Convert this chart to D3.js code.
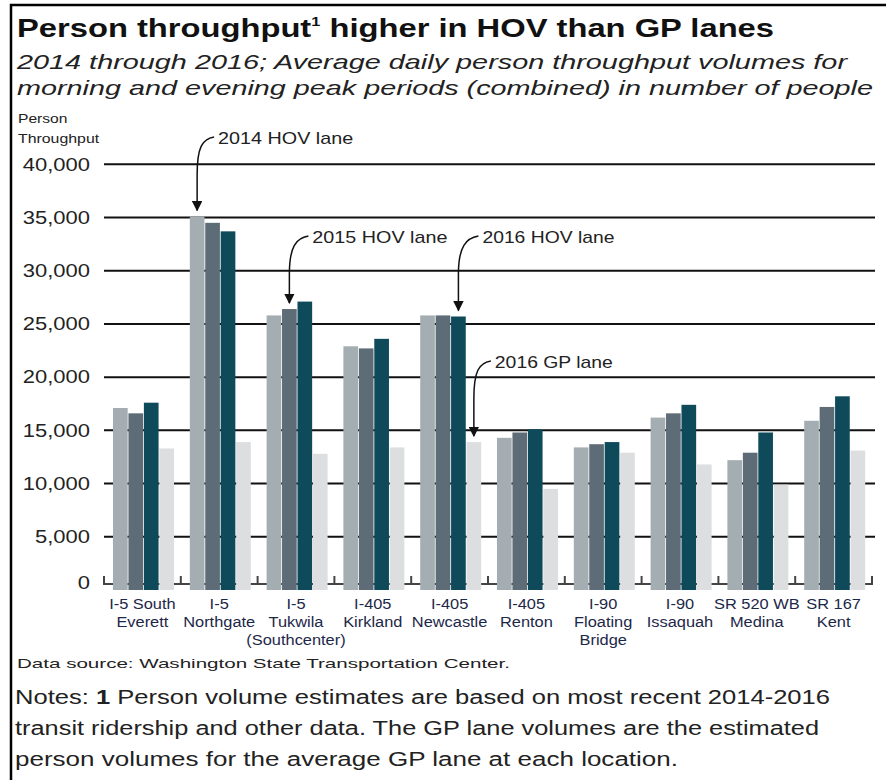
<!DOCTYPE html>
<html>
<head>
<meta charset="utf-8">
<script src="https://cdn.jsdelivr.net/npm/d3@7"></script>
<style>
  body { margin: 0; background: #fff; }
  svg { display: block; font-family: "Liberation Sans", Arial, sans-serif; }
</style>
</head>
<body>
<svg id="chart" width="886" height="780"></svg>
<script>
// values (person throughput, peaks combined)
const locations = ["I-5 South Everett", "I-5 Northgate", "I-5 Tukwila", "I-405 Kirkland", "I-405 Newcastle",
  "I-405 Renton", "I-90 Floating Bridge", "I-90 Issaquah", "SR 520 WB Medina", "SR 167 Kent"];
const locationLabels = [["I-5 South", "Everett"], ["I-5", "Northgate"], ["I-5", "Tukwila", "(Southcenter)"],
  ["I-405", "Kirkland"], ["I-405", "Newcastle"], ["I-405", "Renton"], ["I-90", "Floating", "Bridge"],
  ["I-90", "Issaquah"], ["SR 520 WB", "Medina"], ["SR 167", "Kent"]];
const series = ["2014 HOV lane", "2015 HOV lane", "2016 HOV lane", "2016 GP lane"];
const hov2014 = [17100, 35100, 25800, 22900, 25800, 14300, 13400, 16200, 12200, 15900];
const hov2015 = [16600, 34500, 26400, 22700, 25800, 14800, 13700, 16600, 12900, 17200];
const hov2016 = [17600, 33700, 27100, 23600, 25700, 15100, 13900, 17400, 14800, 18200];
const gp2016  = [13300, 13900, 12800, 13400, 13900, 9500, 12900, 11800, 9900, 13100];
const yTicks = [0, 5000, 10000, 15000, 20000, 25000, 30000, 35000, 40000];

const colors = ["#a4aeb2", "#5e6c77", "#0f4a5b", "#dddee0"];

const svg = d3.select("#chart");

// stretch text horizontally, the source art is wide
function fit(sel, w) {
  sel.attr("textLength", w).attr("lengthAdjust", "spacingAndGlyphs");
}
function widen(sel, k) {
  sel.each(function () {
    const t = d3.select(this);
    t.attr("textLength", this.getComputedTextLength() * k).attr("lengthAdjust", "spacingAndGlyphs");
  });
}

// frame
svg.append("rect").attr("x", 11).attr("y", 5).attr("width", 900).attr("height", 800)
  .attr("fill", "none").attr("stroke", "#000").attr("stroke-width", 2.5);

// titles
svg.append("text").attr("x", 17).attr("y", 37).attr("font-size", 26).attr("font-weight", "bold")
  .attr("fill", "#111")
  .call(t => {
    t.append("tspan").text("Person throughput");
    t.append("tspan").attr("font-size", 13).attr("dy", -11).text("1");
    t.append("tspan").attr("dy", 11).text(" higher in HOV than GP lanes");
  })
  .call(fit, 757);
svg.append("text").attr("x", 17).attr("y", 69).attr("font-size", 21).attr("font-style", "italic")
  .attr("fill", "#222").text("2014 through 2016; Average daily person throughput volumes for").call(fit, 830);
svg.append("text").attr("x", 17).attr("y", 95).attr("font-size", 21).attr("font-style", "italic")
  .attr("fill", "#222").text("morning and evening peak periods (combined) in number of people").call(fit, 856);

svg.append("text").attr("x", 18).attr("y", 123).attr("font-size", 13).attr("fill", "#222")
  .text("Person").call(widen, 1.2);
svg.append("text").attr("x", 18).attr("y", 143).attr("font-size", 13).attr("fill", "#222")
  .text("Throughput").call(widen, 1.22);

// scales
const y = d3.scaleLinear().domain([0, 40000]).range([590, 164.3]);
const x0 = d3.scaleBand().domain(locations).range([104, 872]);
const x1 = d3.scaleBand().domain(series).range([9, 70]).paddingInner(0.05);

// gridlines
svg.append("g").selectAll("line").data(yTicks.filter(d => d > 0)).join("line")
  .attr("x1", 104).attr("x2", 875).attr("y1", d => y(d)).attr("y2", d => y(d))
  .attr("stroke", "#111").attr("stroke-width", 2);

// y tick labels
svg.append("g").selectAll("text").data(yTicks).join("text")
  .attr("x", 90).attr("y", d => d === 0 ? y(d) - 7 : y(d)).attr("dy", "0.35em")
  .attr("text-anchor", "end").attr("font-size", 18).attr("fill", "#222")
  .text(d => d3.format(",")(d)).call(widen, 1.22);

// baseline with group ticks
const base = y(0) - 6;
svg.append("line").attr("x1", 104).attr("x2", 872).attr("y1", base).attr("y2", base)
  .attr("stroke", "#444").attr("stroke-width", 2);
svg.append("g").selectAll("line").data(locations.concat(["end"])).join("line")
  .attr("x1", d => d === "end" ? x0.range()[1] : x0(d))
  .attr("x2", d => d === "end" ? x0.range()[1] : x0(d))
  .attr("y1", base + 1).attr("y2", base - 8)
  .attr("stroke", "#444").attr("stroke-width", 2);

// bars
const rows = locations.map((loc, i) => ({
  loc, vals: [hov2014[i], hov2015[i], hov2016[i], gp2016[i]]
}));
const groups = svg.append("g").selectAll("g").data(rows).join("g")
  .attr("transform", d => `translate(${x0(d.loc)},0)`);
groups.selectAll("rect").data(d => d.vals.map((v, j) => ({ s: series[j], v, j }))).join("rect")
  .attr("x", d => x1(d.s)).attr("width", x1.bandwidth())
  .attr("y", d => y(d.v)).attr("height", d => y(0) - y(d.v))
  .attr("fill", d => colors[d.j]);

// x labels
svg.append("g").selectAll("text").data(rows).join("text")
  .attr("text-anchor", "middle").attr("font-size", 14).attr("fill", "#1d2748")
  .each(function (d, i) {
    const cx = x0(d.loc) + x0.bandwidth() / 2;
    d3.select(this).selectAll("tspan").data(locationLabels[i]).join("tspan")
      .attr("x", cx).attr("y", (t, k) => 609 + k * 18).text(t => t);
  });
svg.selectAll("g text tspan").each(function () {
  d3.select(this).attr("textLength", this.getComputedTextLength() * 1.17).attr("lengthAdjust", "spacingAndGlyphs");
});

// annotations
const annotations = [
  { label: "2014 HOV lane", loc: "I-5 Northgate", s: 0, at: 41900, dx: 21, w: 135 },
  { label: "2015 HOV lane", loc: "I-5 Tukwila", s: 1, at: 32600, dx: 23, w: 135 },
  { label: "2016 HOV lane", loc: "I-405 Newcastle", s: 2, at: 32600, dx: 24, w: 132 },
  { label: "2016 GP lane", loc: "I-405 Newcastle", s: 3, at: 20860, dx: 21, w: 118 }
];
svg.append("defs").append("marker").attr("id", "head")
  .attr("viewBox", "0 0 10 10").attr("refX", 9).attr("refY", 5)
  .attr("markerWidth", 7).attr("markerHeight", 7).attr("orient", "auto")
  .append("path").attr("d", "M0,0 L10,5 L0,10 Z").attr("fill", "#111");

const ann = svg.append("g").selectAll("g").data(annotations).join("g");
ann.append("text")
  .attr("x", d => x0(d.loc) + x1(series[d.s]) + x1.bandwidth() / 2 + d.dx)
  .attr("y", d => y(d.at)).attr("font-size", 17).attr("fill", "#222")
  .text(d => d.label).each(function (d) { d3.select(this).call(fit, d.w); });
ann.append("path")
  .attr("d", d => {
    const tx = x0(d.loc) + x1(series[d.s]) + x1.bandwidth() / 2;
    const row = rows.find(r => r.loc === d.loc);
    const ty = y(row.vals[d.s]) - 6;
    const sx = tx + d.dx - 4, sy = y(d.at) - 7;
    return `M${sx},${sy} C${sx - 12},${sy + 2} ${tx},${sy + 10} ${tx},${sy + 38} L${tx},${ty}`;
  })
  .attr("fill", "none").attr("stroke", "#111").attr("stroke-width", 1.5)
  .attr("marker-end", "url(#head)");

// source and notes
svg.append("text").attr("x", 17).attr("y", 668).attr("font-size", 13).attr("fill", "#222")
  .text("Data source: Washington State Transportation Center.").call(fit, 493);
const notes = svg.append("g").attr("font-size", 20).attr("fill", "#222");
notes.append("text").attr("x", 15).attr("y", 704)
  .call(t => {
    t.append("tspan").text("Notes: ");
    t.append("tspan").attr("font-weight", "bold").text("1");
    t.append("tspan").text(" Person volume estimates are based on most recent 2014-2016");
  }).call(fit, 815);
notes.append("text").attr("x", 15).attr("y", 735)
  .text("transit ridership and other data. The GP lane volumes are the estimated").call(fit, 804);
notes.append("text").attr("x", 15).attr("y", 766)
  .text("person volumes for the average GP lane at each location.").call(fit, 663);
</script>
</body>
</html>
